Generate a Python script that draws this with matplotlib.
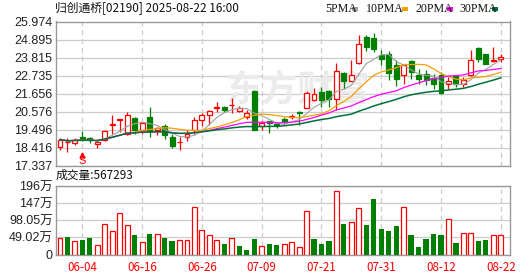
import matplotlib.pyplot as plt
import pandas as pd
from matplotlib.patches import Rectangle

plt.rcParams['font.family'] = ['Liberation Sans', 'Noto Sans CJK SC']

dates = ["05-30", "06-02", "06-03", "06-04", "06-05", "06-06", "06-09", "06-10", "06-11", "06-12",
         "06-13", "06-16", "06-17", "06-18", "06-19", "06-20", "06-23", "06-24", "06-25", "06-26",
         "06-27", "06-30", "07-02", "07-03", "07-04", "07-07", "07-08", "07-09", "07-10", "07-11",
         "07-14", "07-15", "07-16", "07-17", "07-18", "07-21", "07-22", "07-23", "07-24", "07-25",
         "07-28", "07-29", "07-30", "07-31", "08-01", "08-04", "08-05", "08-06", "08-07", "08-08",
         "08-11", "08-12", "08-13", "08-14", "08-15", "08-18", "08-19", "08-20", "08-21", "08-22"]

opens = [18.47, 18.75, 18.71, 19.07, 19.03, 18.67, 18.87, 19.80, 20.09, 19.23,
         20.22, 19.51, 20.24, 19.47, 19.71, 19.07, 18.75, 19.05, 19.47, 20.11,
         20.40, 20.81, 20.86, 20.96, 20.62, 20.26, 21.80, 19.74, 20.00, 19.87,
         20.17, 20.27, 20.57, 20.80, 21.26, 21.75, 21.80, 21.36, 22.91, 22.41,
         23.50, 25.04, 25.00, 23.99, 24.06, 23.39, 22.75, 23.62, 22.79, 22.81,
         22.57, 22.79, 22.25, 22.69, 22.25, 22.79, 24.40, 24.05, 23.62, 23.71]
highs = [18.99, 19.01, 19.01, 19.41, 19.08, 18.87, 19.47, 20.36, 20.17, 20.54,
         20.24, 19.93, 20.84, 19.66, 19.87, 19.23, 19.05, 19.47, 20.26, 20.48,
         20.66, 21.16, 20.93, 21.38, 20.90, 20.66, 21.86, 20.00, 20.03, 19.97,
         20.24, 20.46, 20.60, 21.80, 22.02, 22.05, 21.86, 23.47, 22.95, 23.65,
         25.14, 25.14, 25.29, 24.30, 24.24, 23.65, 23.38, 23.65, 23.15, 23.05,
         22.85, 22.93, 22.65, 22.75, 22.65, 24.30, 24.42, 24.06, 24.45, 24.03]
lows = [18.31, 18.15, 18.57, 18.83, 18.73, 18.43, 18.81, 19.27, 19.37, 19.17,
        19.27, 19.27, 19.05, 19.21, 18.97, 18.43, 18.30, 18.81, 19.27, 19.71,
        19.77, 20.56, 20.56, 20.50, 20.54, 20.17, 19.47, 19.47, 19.31, 19.59,
        19.82, 20.17, 19.77, 20.78, 21.23, 20.86, 20.86, 20.66, 21.96, 22.39,
        23.45, 24.24, 24.18, 23.35, 22.45, 22.09, 22.25, 22.55, 22.25, 22.20,
        21.96, 21.66, 21.96, 22.05, 22.05, 22.69, 23.53, 23.44, 23.53, 23.56]
closes = [18.91, 18.78, 18.91, 18.91, 18.87, 18.77, 19.42, 19.86, 20.14, 20.40,
          19.50, 19.91, 19.41, 19.60, 19.21, 18.51, 18.78, 19.26, 20.11, 20.36,
          20.62, 20.84, 20.70, 20.99, 20.82, 20.50, 19.50, 19.91, 19.88, 19.77,
          20.02, 20.32, 20.52, 21.69, 21.66, 21.26, 21.32, 23.01, 22.41, 22.79,
          24.60, 24.44, 24.34, 23.75, 22.87, 22.51, 23.35, 22.93, 22.55, 22.45,
          22.25, 21.72, 22.39, 22.25, 22.45, 23.69, 23.71, 23.45, 23.68, 23.88]

# volume in 万 shares, 1 = red (up) bar, 0 = green
volumes = [46.6, 50.4, 39.0, 41.8, 47.6, 27.6, 87.5, 67.5, 118.9, 84.6,
           56.1, 36.1, 59.0, 59.0, 47.6, 39.0, 41.8, 41.8, 136.0, 70.4,
           56.1, 41.8, 30.4, 46.6, 24.7, 14.3, 44.7, 24.7, 30.4, 27.6,
           30.0, 35.2, 20.9, 123.6, 44.7, 30.4, 39.0, 180.7, 87.5, 92.2,
           132.2, 84.6, 158.8, 73.2, 67.5, 81.8, 135.0, 56.1, 21.9, 44.7,
           59.0, 56.1, 100.8, 33.3, 61.8, 61.8, 39.0, 41.8, 56.1, 56.7]
vol_up = [1, 0, 1, 0, 0, 1, 1, 1, 1, 1,
          0, 1, 0, 1, 0, 0, 1, 1, 1, 1,
          1, 1, 0, 1, 0, 0, 0, 1, 0, 0,
          1, 1, 1, 1, 0, 0, 0, 1, 0, 1,
          1, 0, 0, 0, 0, 0, 1, 0, 0, 0,
          0, 0, 1, 0, 1, 1, 0, 0, 1, 1]

price_ticks = [17.337, 18.416, 19.496, 20.576, 21.656, 22.735, 23.815, 24.895, 25.974]
vol_ticks = [0, 49.02, 98.05, 147.07, 196.09]
vol_tick_labels = ["0", "49.02万", "98.05万", "147万", "196万"]
tick_dates = ["06-04", "06-16", "06-26", "07-09", "07-21", "07-31", "08-12", "08-22"]

ma_windows = [5, 10, 20, 30]
ma_colors = ["#a0a0a0", "#f5a000", "#ff00ff", "#00703a"]
ma_widths = [0.8, 0.9, 0.9, 1.1]

RED = "#ff0000"
GREEN = "#008000"
GRID = "#cccccc"
FRAME = "#999999"

W, H = 530, 276
fig = plt.figure(figsize=(W / 100, H / 100), dpi=100)


def fx(px):
    return px / W


def fy(py):
    return 1 - py / H


ax = fig.add_axes([fx(56), fy(166), fx(509.5) - fx(56), fy(21.5) - fy(166)])
axv = fig.add_axes([fx(56), fy(254.5), fx(509.5) - fx(56), fy(186) - fy(254.5)])

xs = list(range(len(dates)))
tick_pos = [dates.index(d) for d in tick_dates]
x_lo, x_hi = -0.535, 60.17

# watermark, behind the candles
ax.text(fx(298), fy(90), "东方财富", fontsize=26, color="#ebebeb", fontweight="bold",
        ha="center", va="center", family=["Noto Sans CJK SC"], transform=fig.transFigure,
        zorder=1)

# candles
for i in xs:
    o, h, l, c = opens[i], highs[i], lows[i], closes[i]
    up = c >= o
    col = RED if up else GREEN
    top, bot = max(o, c), min(o, c)
    ax.vlines(i, top, h, color=col, lw=0.9, zorder=2)
    ax.vlines(i, l, bot, color=col, lw=0.9, zorder=2)
    ax.add_patch(Rectangle((i - 0.33, bot), 0.66, max(top - bot, 0.012),
                           facecolor="white" if up else col, edgecolor=col, lw=0.9, zorder=3))

# moving averages
s = pd.Series(closes)
for w, col, lw in zip(ma_windows, ma_colors, ma_widths):
    ax.plot(xs, s.rolling(w, min_periods=1).mean(), color=col, lw=lw, zorder=4)

# "S" mark
ax.plot(3, 17.99, marker="^", color=RED, ms=3.5, zorder=5)
ax.text(3, 17.66, "S", color=RED, fontsize=8, ha="center", va="center", zorder=5)

ax.set_xlim(x_lo, x_hi)
ax.set_ylim(price_ticks[0], price_ticks[-1])
ax.set_yticks(price_ticks)
ax.set_yticklabels([f"{t:.3f}" for t in price_ticks])
ax.set_xticks([])

# volume bars
for i in xs:
    if vol_up[i]:
        axv.add_patch(Rectangle((i - 0.33, 0), 0.66, volumes[i], facecolor="white",
                                edgecolor=RED, lw=0.9, zorder=3))
    else:
        axv.add_patch(Rectangle((i - 0.35, 0), 0.7, volumes[i], facecolor=GREEN,
                                edgecolor="none", zorder=3))

axv.set_xlim(x_lo, x_hi)
axv.set_ylim(vol_ticks[0], vol_ticks[-1])
axv.set_yticks(vol_ticks)
axv.set_yticklabels(vol_tick_labels)
axv.set_xticks(tick_pos)
axv.set_xticklabels(tick_dates, color=RED, fontsize=8.3, family=["Noto Sans CJK SC"])

for a in (ax, axv):
    a.grid(axis="y", color=GRID, lw=0.9, zorder=0)
    for p in tick_pos:
        a.axvline(p, color=GRID, lw=0.9, dashes=(4, 3), zorder=0)
    a.tick_params(axis="y", length=0, pad=2.5, labelsize=9, labelcolor="#222222")
    a.tick_params(axis="x", length=0, pad=5)
    for sp in a.spines.values():
        sp.set_color(FRAME)
        sp.set_linewidth(1)
    a.set_axisbelow(True)

# title, volume label, legend
fig.text(fx(55), fy(8.5), "归创通桥[02190] 2025-08-22 16:00", fontsize=8.5,
         ha="left", va="center", family=["Noto Sans CJK SC"], color="#111111")
fig.text(fx(56), fy(175.5), "成交量:567293", fontsize=8.5,
         ha="left", va="center", family=["Noto Sans CJK SC"], color="#111111")

leg_text_x = [325, 366, 416, 459]
leg_mark_x = [352, 402, 447, 492]
for w, col, tx, mx in zip(ma_windows, ma_colors, leg_text_x, leg_mark_x):
    fig.text(fx(tx), fy(9), f"{w}PMA", fontsize=8.6, ha="left", va="center",
             family=["Liberation Serif"], color="#111111")
    fig.add_artist(Rectangle((fx(mx), fy(10.5)), fx(6), 3 / H, transform=fig.transFigure,
                             facecolor=col, edgecolor="none"))

fig.savefig("out.png", dpi=100)
